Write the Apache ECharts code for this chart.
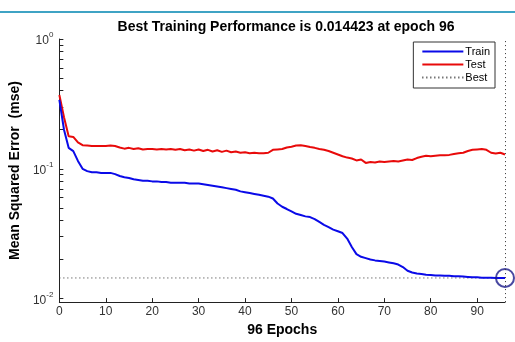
<!DOCTYPE html>
<html>
<head>
<meta charset="utf-8">
<script src="https://cdn.jsdelivr.net/npm/echarts@6/dist/echarts.min.js"></script>
<style>html,body{margin:0;padding:0;background:#fff;}#c{width:515px;height:342px;}</style>
</head>
<body>
<div id="c"></div>
<script>
var titleText = 'Best Training Performance is 0.014423 at epoch 96';
var xName = '96 Epochs';
var yName = 'Mean Squared Error  (mse)';
var seriesNames = ['Train', 'Test', 'Best'];
var bestEpoch = 96;
var bestValue = 0.014423;
var yMin = 0.0094;
var yMax = 1;
var xMin = 0;
var xMax = 96;
var xTickValues = [0, 10, 20, 30, 40, 50, 60, 70, 80, 90];
var yTickValues = [0.01, 0.1, 1];
var yMinorTickValues = [0.02,0.03,0.04,0.05,0.06,0.07,0.08,0.09,0.2,0.3,0.4,0.5,0.6,0.7,0.8,0.9];

var trainValues = [
0.34,0.20,0.145,0.137,0.115,0.100,0.096,0.094,0.094,0.093,
0.093,0.093,0.091,0.088,0.086,0.085,0.083,0.082,0.081,0.081,
0.080,0.080,0.079,0.079,0.078,0.078,0.078,0.078,0.077,0.077,
0.077,0.076,0.075,0.074,0.073,0.072,0.071,0.070,0.069,0.067,
0.066,0.065,0.064,0.063,0.062,0.061,0.059,0.054,0.051,0.049,
0.047,0.045,0.044,0.043,0.0425,0.041,0.039,0.037,0.0355,0.034,
0.033,0.032,0.029,0.025,0.022,0.021,0.0205,0.020,0.0197,0.0195,
0.0193,0.019,0.0187,0.0183,0.0175,0.0164,0.0159,0.0156,0.0155,0.0153,
0.0152,0.0151,0.0151,0.0150,0.0150,0.0149,0.0149,0.0148,0.0147,0.0146,
0.0146,0.0145,0.0145,0.0145,0.0144,0.0144,0.014423];

var testValues = [
0.37,0.25,0.178,0.176,0.16,0.152,0.151,0.150,0.150,0.150,
0.150,0.151,0.150,0.146,0.143,0.145,0.142,0.144,0.141,0.142,
0.142,0.141,0.142,0.141,0.142,0.140,0.142,0.139,0.141,0.138,
0.141,0.137,0.140,0.136,0.139,0.135,0.138,0.134,0.136,0.133,
0.134,0.132,0.133,0.132,0.132,0.133,0.140,0.141,0.142,0.146,
0.148,0.151,0.152,0.150,0.147,0.145,0.142,0.140,0.137,0.133,
0.129,0.125,0.122,0.120,0.116,0.118,0.111,0.113,0.112,0.114,
0.113,0.114,0.115,0.114,0.116,0.118,0.117,0.121,0.124,0.126,
0.125,0.126,0.127,0.127,0.128,0.130,0.132,0.133,0.137,0.140,
0.141,0.142,0.140,0.133,0.131,0.133,0.129];

function pairs(vals){ var out=[]; for(var i=0;i<vals.length;i++){ out.push([i, vals[i]]); } return out; }

var chart = echarts.init(document.getElementById('c'), null, {renderer:'canvas'});
var axisColor = '#222';
var font = 'Liberation Sans, Arial, sans-serif';
var dotted = {color: '#333', width: 1, type: [1, 3]};
var option = {
  animation: false,
  backgroundColor: '#fff',
  title: {
    text: titleText, left: 281, top: 15, textAlign: 'center',
    textStyle: {fontFamily: font, fontSize: 14, fontWeight: 'bold', color: '#000'}
  },
  graphic: [{type:'rect', left:0, top:11, shape:{width:515, height:2}, style:{fill:'#3fa3c4'}}],
  legend: {
    data: seriesNames, orient: 'vertical', right: 20, top: 42,
    backgroundColor: '#fff', borderColor: '#333', borderWidth: 1, padding: [4,5,5,8],
    itemWidth: 41, itemHeight: 10, itemGap: 2, align: 'left',
    itemStyle: {opacity: 0},
    textStyle: {fontFamily: font, fontSize: 11, color: '#000', padding:[0,0,0,-3]}
  },
  grid: {left: 59, right: 10, top: 39, bottom: 29, containLabel: false},
  xAxis: {
    type: 'value', min: xMin, max: xMax, interval: 10,
    name: xName, nameLocation: 'middle', nameGap: 19,
    nameTextStyle: {fontFamily: font, fontSize: 14, fontWeight: 'bold', color: '#000'},
    axisLine: {lineStyle: {color: axisColor, width: 1}},
    axisTick: {inside: true, length: 4, customValues: xTickValues, lineStyle:{color: axisColor}},
    axisLabel: {customValues: xTickValues, fontFamily: font, fontSize: 12, color: '#333', margin: 4},
    splitLine: {show: false}
  },
  yAxis: {
    type: 'log', logBase: 10, min: yMin, max: yMax,
    name: yName, nameLocation: 'middle', nameGap: 32,
    nameTextStyle: {fontFamily: font, fontSize: 14, fontWeight: 'bold', color: '#000'},
    axisLine: {show: true, lineStyle: {color: axisColor, width: 1}},
    axisTick: {inside: true, length: 4, customValues: yTickValues.concat(yMinorTickValues), lineStyle:{color: axisColor}},
    axisLabel: {
      customValues: yTickValues, margin: 6,
      formatter: function(v){ return '{b|10}{s|' + Math.round(Math.log10(v)) + '}'; },
      rich: {
        b: {fontFamily: font, fontSize: 12, color: '#333', verticalAlign:'bottom'},
        s: {fontFamily: font, fontSize: 8, color: '#333', verticalAlign:'top', padding:[0,0,8,0]}
      }
    },
    splitLine: {show: false}, minorTick: {show: false}
  },
  series: [
    {name: 'Train', type: 'line', data: pairs(trainValues), symbol: 'none', clip: false, lineStyle: {color: '#0a0ae8', width: 2}, itemStyle:{color:'#0a0ae8'}, z: 3},
    {name: 'Test', type: 'line', data: pairs(testValues), symbol: 'none', clip: false, lineStyle: {color: '#e80a0a', width: 2}, itemStyle:{color:'#e80a0a'}, z: 2},
    {name: 'Best', type: 'line', data: [[xMin, bestValue], [bestEpoch, bestValue]], symbol: 'none', clip: false,
     lineStyle: dotted, itemStyle:{color:'#333'}, z: 1,
     markLine: {silent: true, symbol: ['none','none'], label: {show: false}, lineStyle: dotted,
       data: [{xAxis: bestEpoch}]}},
    {name: 'BestPoint', type: 'scatter', data: [[bestEpoch, bestValue]], symbol: 'circle', symbolSize: 18, clip: false,
     itemStyle: {color: 'rgba(0,0,0,0)', borderColor: '#1a1a8a', borderWidth: 2}, z: 4}
  ]
};
chart.setOption(option);
</script>
</body>
</html>
